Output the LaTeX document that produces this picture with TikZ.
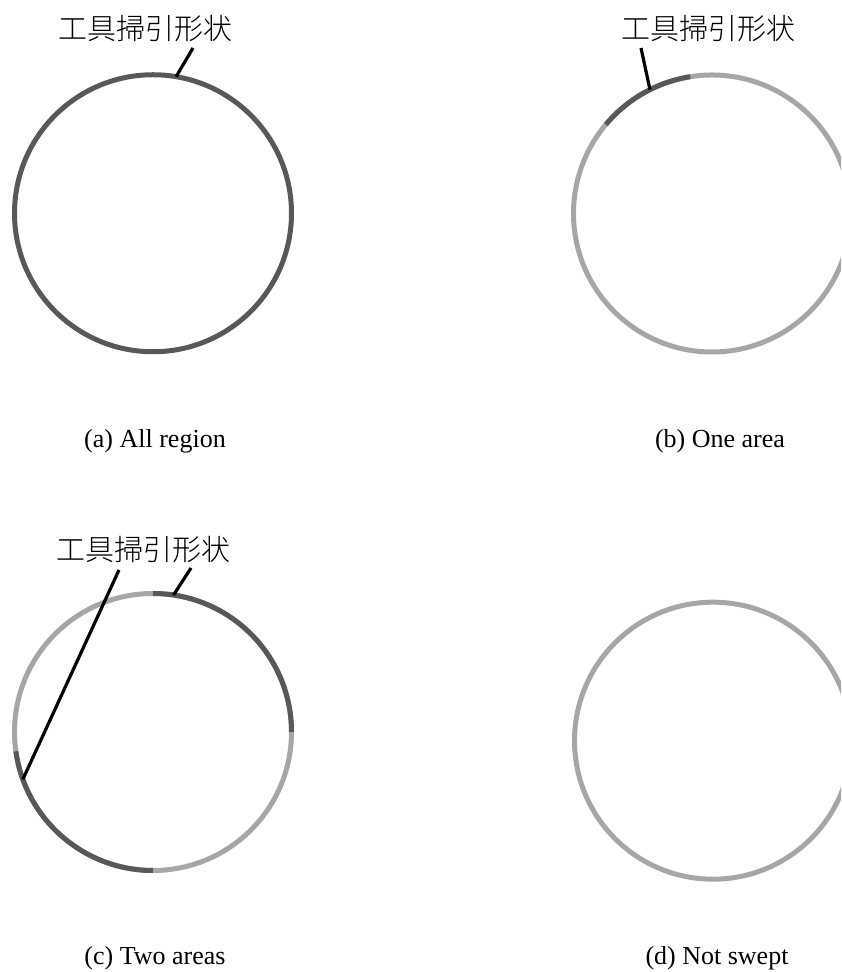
\documentclass[tikz,border=0pt]{standalone}
\usepackage{fontspec}
\setmainfont{Liberation Serif}
\newfontfamily\cjkfont{Noto Sans CJK JP}[UprightFont={* Light}]
\definecolor{arcdark}{RGB}{88,88,88}
\definecolor{arclight}{RGB}{166,166,166}
\begin{document}
\begin{tikzpicture}[x=1pt,y=1pt,
  ring/.style={line width=5pt, line cap=butt},
  darkarc/.style={ring, draw=arcdark},
  lightarc/.style={ring, draw=arclight},
  leader/.style={line width=3.2pt, draw=black},
  cjklabel/.style={font=\cjkfont\fontsize{29}{29}\selectfont, inner sep=0pt, anchor=center},
  caption/.style={font=\fontsize{26}{26}\selectfont, inner sep=0pt, anchor=base}]
\useasboundingbox (0,0) rectangle (841,972);
\clip (0,0) rectangle (841,972);
\def\R{138.5}
% centres
\coordinate (ca) at (153,758.75);
\coordinate (cb) at (712,758.5);
\coordinate (cc) at (153,240);
\coordinate (cd) at (713,231.3);
% (a) all region
\draw[darkarc] (ca) circle[radius=\R];
% (b) one area
\draw[lightarc] (cb) circle[radius=\R];
\draw[darkarc] ([shift={(99:\R)}]cb) arc[start angle=99, end angle=140, radius=\R];
% (c) two areas
\draw[lightarc] (cc) circle[radius=\R];
\draw[darkarc] ([shift={(0:\R)}]cc) arc[start angle=0, end angle=90, radius=\R];
\draw[darkarc] ([shift={(188:\R)}]cc) arc[start angle=188, end angle=270, radius=\R];
% (d) not swept
\draw[lightarc] (cd) circle[radius=\R];
% labels
\node[cjklabel] (la) at (145,943) {工具掃引形状};
\node[cjklabel] (lb) at (708,943) {工具掃引形状};
\node[cjklabel] (lc) at (143.5,422) {工具掃引形状};
% leader ends
\coordinate (pa) at ([shift={(80.4:\R)}]ca);
\coordinate (qa) at (193,924);
\coordinate (pb) at ([shift={(116.6:\R)}]cb);
\coordinate (qb) at (641,924);
\coordinate (pc1) at ([shift={(81.5:\R)}]cc);
\coordinate (qc1) at (191,404);
\coordinate (pc2) at ([shift={(200:\R)}]cc);
\coordinate (qc2) at (119,402);
\draw[leader] (qa) -- (pa);
\draw[leader] (qb) -- (pb);
\draw[leader] (qc1) -- (pc1);
\draw[leader] (qc2) -- (pc2);
% captions
\node[caption] (capa) at (155,524.5) {(a) All region};
\node[caption] (capb) at (720,524.5) {(b) One area};
\node[caption] (capc) at (155,8) {(c) Two areas};
\node[caption] (capd) at (717,8) {(d) Not swept};
\end{tikzpicture}
\end{document}
